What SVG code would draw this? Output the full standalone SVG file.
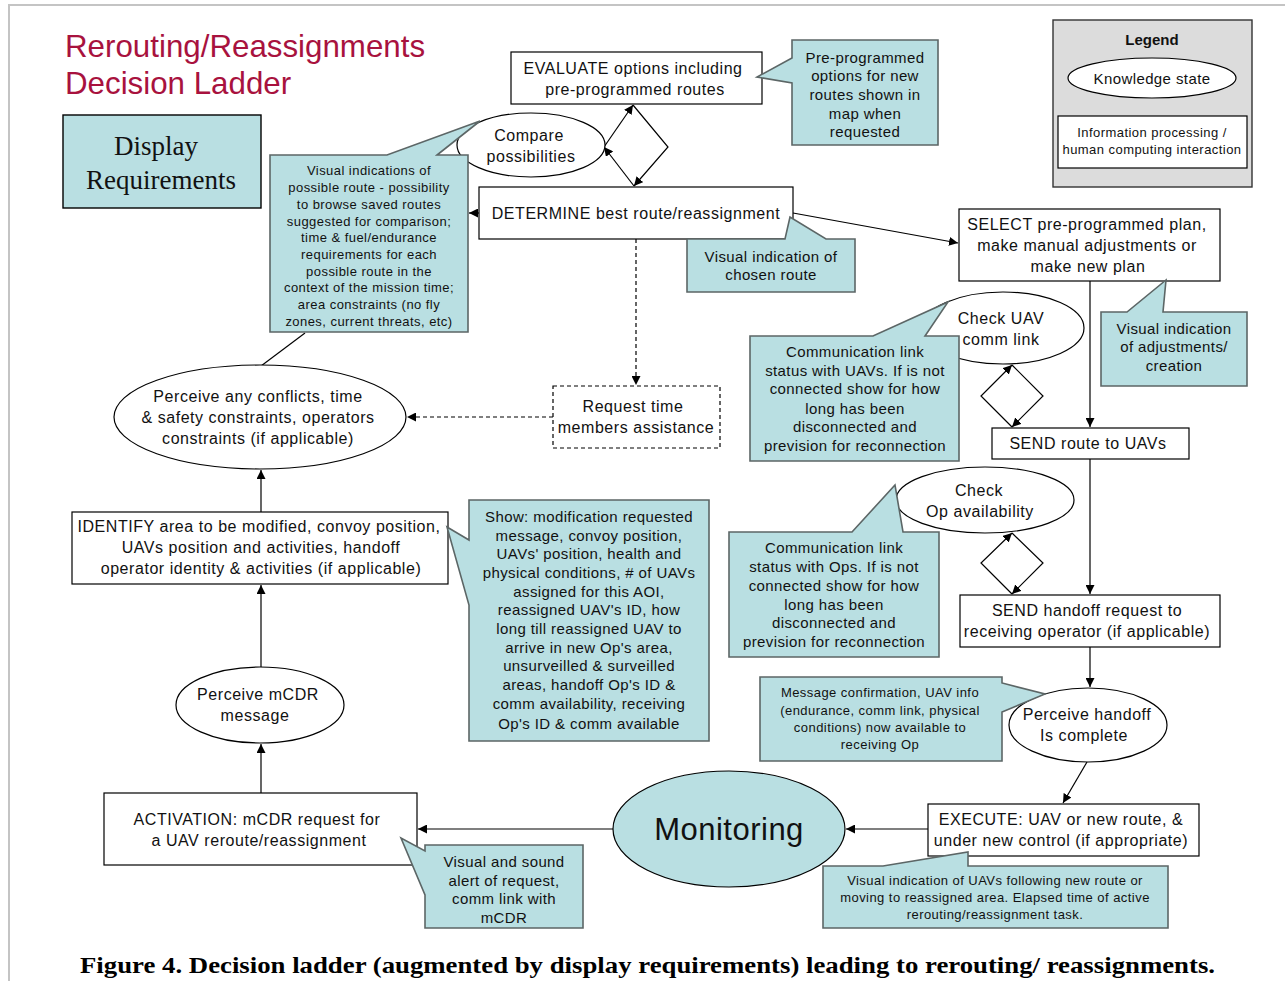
<svg xmlns="http://www.w3.org/2000/svg" width="1285" height="981" viewBox="0 0 1285 981">
<defs>
<marker id="ah" markerWidth="9" markerHeight="9" refX="9" refY="4.5" orient="auto" markerUnits="userSpaceOnUse"><path d="M0,0 L9,4.5 L0,9 z" fill="#000"/></marker>
<style>
.box{fill:#fff;stroke:#000;stroke-width:1.2}
.dbox{fill:#fff;stroke:#000;stroke-width:1.2;stroke-dasharray:4,3}
.ell{fill:#fff;stroke:#000;stroke-width:1.2}
.call{fill:#b9dfe2;stroke:#5c6666;stroke-width:1.6;stroke-linejoin:miter}
.t16{font-family:"Liberation Sans",Arial,sans-serif;font-size:16px;letter-spacing:0.55px;fill:#111;text-anchor:middle}
.t15{font-family:"Liberation Sans",Arial,sans-serif;font-size:15px;letter-spacing:0.4px;fill:#111;text-anchor:middle}
.t13{font-family:"Liberation Sans",Arial,sans-serif;font-size:13px;letter-spacing:0.45px;fill:#111;text-anchor:middle}
.c{stroke:#000;stroke-width:1.2;fill:none}
.ca{stroke:#000;stroke-width:1.2;fill:none;marker-end:url(#ah)}
.cd{stroke:#000;stroke-width:1.2;fill:none;stroke-dasharray:4,3;marker-end:url(#ah)}
</style>
</defs>
<rect width="1285" height="981" fill="#fff"/>
<path d="M9,981 L9,5 L1285,5" fill="none" stroke="#c4c4c4" stroke-width="2"/>

<g id="title">
<text x="65" y="57" font-family="'Liberation Sans',Arial,sans-serif" font-size="31.3" fill="#a8123e">Rerouting/Reassignments</text>
<text x="65" y="94" font-family="'Liberation Sans',Arial,sans-serif" font-size="31.3" fill="#a8123e">Decision Ladder</text>
</g>

<g id="display-req">
<rect x="63" y="115" width="198" height="93" fill="#b9dfe2" stroke="#000" stroke-width="1.4"/>
<text x="156" y="155" font-family="'Liberation Serif','Times New Roman',serif" font-size="27" text-anchor="middle" fill="#111">Display</text>
<text x="161" y="189" font-family="'Liberation Serif','Times New Roman',serif" font-size="27" text-anchor="middle" fill="#111">Requirements</text>
</g>

<g id="legend">
<rect x="1053" y="20" width="199" height="167" fill="#dcdcdc" stroke="#333" stroke-width="1.4"/>
<text x="1152" y="45" class="t15" font-weight="bold" style="letter-spacing:0">Legend</text>
<ellipse cx="1152" cy="78" rx="84" ry="20" class="ell"/>
<text x="1152" y="84" class="t15">Knowledge state</text>
<rect x="1058" y="116" width="189" height="52" class="box"/>
<text x="1152" y="137" class="t13">Information processing /</text>
<text x="1152" y="154" class="t13">human computing interaction</text>
</g>

<g id="connectors">
<path class="ca" d="M634,186 L604,147"/>
<path class="ca" d="M604,147 L633,105"/>
<path class="ca" d="M633,105 L668,147 L634,186"/>
<path class="ca" d="M479,213 L469,213"/>
<path class="ca" d="M793,213 L958,243"/>
<path class="cd" d="M636,239 L636,385"/>
<path class="cd" d="M553,417 L407,417"/>
<path class="ca" d="M261,512 L261,470"/>
<path class="ca" d="M261,667 L261,585"/>
<path class="ca" d="M261,793 L261,744"/>
<path class="ca" d="M613,829 L418,829"/>
<path class="ca" d="M928,829 L846,829"/>
<path class="ca" d="M1087,762 L1063,803"/>
<path class="ca" d="M1090,647 L1090,687"/>
<path class="ca" d="M1090,459 L1090,594"/>
<path class="ca" d="M1090,281 L1090,427"/>
<path class="ca" d="M1012,427 L981,396 L1012,365"/>
<path class="ca" d="M1012,365 L1043,396 L1012,427"/>
<path class="ca" d="M1012,594 L981,563 L1012,533"/>
<path class="ca" d="M1012,533 L1043,563 L1012,594"/>
<path class="c" d="M305,333 L261,366"/>
</g>

<g id="evaluate">
<rect x="511" y="52" width="251" height="52" class="box"/>
<text x="633" y="74" class="t16">EVALUATE options including</text>
<text x="635" y="95" class="t16">pre-programmed routes</text>
</g>

<g id="callout-preprog">
<path class="call" d="M792,40 L938,40 L938,145 L792,145 L792,83 L757,77 L792,58 Z"/>
<text x="865" y="63" class="t15">Pre-programmed</text>
<text x="865" y="81" class="t15">options for new</text>
<text x="865" y="100" class="t15">routes shown in</text>
<text x="865" y="119" class="t15">map when</text>
<text x="865" y="137" class="t15">requested</text>
</g>

<g id="compare">
<ellipse cx="531" cy="145" rx="74" ry="32" class="ell"/>
<text x="529" y="141" class="t16">Compare</text>
<text x="531" y="162" class="t16">possibilities</text>
</g>

<g id="callout-visual-routes">
<path class="call" d="M270,155 L387,155 L480,121 L437,155 L468,155 L468,332 L270,332 Z"/>
<text x="369" y="175" class="t13">Visual indications of</text>
<text x="369" y="192" class="t13">possible route - possibility</text>
<text x="369" y="209" class="t13">to browse saved routes</text>
<text x="369" y="226" class="t13">suggested for comparison;</text>
<text x="369" y="242" class="t13">time &amp; fuel/endurance</text>
<text x="369" y="259" class="t13">requirements for each</text>
<text x="369" y="276" class="t13">possible route in the</text>
<text x="369" y="292" class="t13">context of the mission time;</text>
<text x="369" y="309" class="t13">area constraints (no fly</text>
<text x="369" y="326" class="t13">zones, current threats, etc)</text>
</g>

<g id="determine">
<rect x="479" y="187" width="314" height="52" class="box"/>
<text x="636" y="219" class="t16">DETERMINE best route/reassignment</text>
</g>

<g id="callout-chosen">
<path class="call" d="M687,239 L785,239 L790,217 L826,239 L855,239 L855,292 L687,292 Z"/>
<text x="771" y="262" class="t15">Visual indication of</text>
<text x="771" y="280" class="t15">chosen route</text>
</g>

<g id="request">
<rect x="553" y="386" width="167" height="62" class="dbox"/>
<text x="633" y="412" class="t16">Request time</text>
<text x="636" y="433" class="t16">members assistance</text>
</g>

<g id="perceive-conflicts">
<ellipse cx="260" cy="417" rx="146" ry="52" class="ell"/>
<text x="258" y="402" class="t16">Perceive any conflicts, time</text>
<text x="258" y="423" class="t16">&amp; safety constraints, operators</text>
<text x="258" y="444" class="t16">constraints (if applicable)</text>
</g>

<g id="identify">
<rect x="72" y="512" width="376" height="72" class="box"/>
<text x="259" y="532" class="t16">IDENTIFY area to be modified, convoy position,</text>
<text x="261" y="553" class="t16">UAVs position and activities, handoff</text>
<text x="261" y="574" class="t16">operator identity &amp; activities (if applicable)</text>
</g>

<g id="callout-show">
<path class="call" d="M469,500 L709,500 L709,741 L469,741 L469,605 L447,527 L469,540 Z"/>
<text x="589" y="522" class="t15">Show: modification requested</text>
<text x="589" y="541" class="t15">message, convoy position,</text>
<text x="589" y="559" class="t15">UAVs' position, health and</text>
<text x="589" y="578" class="t15">physical conditions, # of UAVs</text>
<text x="589" y="597" class="t15">assigned for this AOI,</text>
<text x="589" y="615" class="t15">reassigned UAV's ID, how</text>
<text x="589" y="634" class="t15">long till reassigned UAV to</text>
<text x="589" y="653" class="t15">arrive in new Op's area,</text>
<text x="589" y="671" class="t15">unsurveilled &amp; surveilled</text>
<text x="589" y="690" class="t15">areas, handoff Op's ID &amp;</text>
<text x="589" y="709" class="t15">comm availability, receiving</text>
<text x="589" y="729" class="t15">Op's ID &amp; comm available</text>
</g>

<g id="perceive-mcdr">
<ellipse cx="260" cy="705" rx="84" ry="38" class="ell"/>
<text x="258" y="700" class="t16">Perceive mCDR</text>
<text x="255" y="721" class="t16">message</text>
</g>

<g id="activation">
<rect x="104" y="793" width="313" height="72" class="box"/>
<text x="257" y="825" class="t16">ACTIVATION: mCDR request for</text>
<text x="259" y="846" class="t16">a UAV reroute/reassignment</text>
</g>

<g id="callout-alert">
<path class="call" d="M425,845 L583,845 L583,928 L425,928 L425,895 L401,838 L425,851 Z"/>
<text x="504" y="867" class="t15">Visual and sound</text>
<text x="504" y="886" class="t15">alert of request,</text>
<text x="504" y="904" class="t15">comm link with</text>
<text x="504" y="923" class="t15">mCDR</text>
</g>

<g id="monitoring">
<ellipse cx="729" cy="829" rx="116" ry="58" fill="#b9dfe2" stroke="#000" stroke-width="1.2"/>
<text x="729" y="840" class="t16" style="font-size:31px;letter-spacing:0.5px">Monitoring</text>
</g>

<g id="select">
<rect x="959" y="209" width="261" height="72" class="box"/>
<text x="1087" y="230" class="t16">SELECT pre-programmed plan,</text>
<text x="1087" y="251" class="t16">make manual adjustments or</text>
<text x="1088" y="272" class="t16">make new plan</text>
</g>

<g id="callout-adjust">
<path class="call" d="M1101,312 L1127,312 L1166,280 L1163,312 L1247,312 L1247,386 L1101,386 Z"/>
<text x="1174" y="334" class="t15">Visual indication</text>
<text x="1174" y="352" class="t15">of adjustments/</text>
<text x="1174" y="371" class="t15">creation</text>
</g>

<g id="check-uav">
<ellipse cx="1003" cy="328" rx="81" ry="36" class="ell"/>
<text x="1001" y="324" class="t16">Check UAV</text>
<text x="1001" y="345" class="t16">comm link</text>
</g>

<g id="callout-uav-link">
<path class="call" d="M750,336 L873,336 L948,302 L925,336 L959,336 L959,461 L750,461 Z"/>
<text x="855" y="357" class="t15">Communication link</text>
<text x="855" y="376" class="t15">status with UAVs. If is not</text>
<text x="855" y="394" class="t15">connected show for how</text>
<text x="855" y="414" class="t15">long has been</text>
<text x="855" y="432" class="t15">disconnected and</text>
<text x="855" y="451" class="t15">prevision for reconnection</text>
</g>

<g id="send-route">
<rect x="992" y="428" width="197" height="31" class="box"/>
<text x="1088" y="449" class="t16">SEND route to UAVs</text>
</g>

<g id="check-op">
<ellipse cx="985" cy="500" rx="89" ry="33" class="ell"/>
<text x="979" y="496" class="t16">Check</text>
<text x="980" y="517" class="t16">Op availability</text>
</g>

<g id="callout-op-link">
<path class="call" d="M729,532 L852,532 L895,485 L903,532 L939,532 L939,657 L729,657 Z"/>
<text x="834" y="553" class="t15">Communication link</text>
<text x="834" y="572" class="t15">status with Ops. If is not</text>
<text x="834" y="591" class="t15">connected show for how</text>
<text x="834" y="610" class="t15">long has been</text>
<text x="834" y="628" class="t15">disconnected and</text>
<text x="834" y="647" class="t15">prevision for reconnection</text>
</g>

<g id="send-handoff">
<rect x="960" y="595" width="260" height="52" class="box"/>
<text x="1087" y="616" class="t16">SEND handoff request to</text>
<text x="1087" y="637" class="t16">receiving operator (if applicable)</text>
</g>

<g id="perceive-handoff">
<ellipse cx="1088" cy="725" rx="79" ry="37" class="ell"/>
<text x="1087" y="720" class="t16">Perceive handoff</text>
<text x="1084" y="741" class="t16">Is complete</text>
</g>

<g id="callout-confirm">
<path class="call" d="M760,677 L1002,677 L1002,683 L1045,694 L1002,712 L1002,761 L760,761 Z"/>
<text x="880" y="697" class="t13">Message confirmation, UAV info</text>
<text x="880" y="715" class="t13">(endurance, comm link, physical</text>
<text x="880" y="732" class="t13">conditions) now available to</text>
<text x="880" y="749" class="t13">receiving Op</text>
</g>

<g id="execute">
<rect x="928" y="804" width="271" height="52" class="box"/>
<text x="1061" y="825" class="t16">EXECUTE: UAV or new route, &amp;</text>
<text x="1061" y="846" class="t16">under new control (if appropriate)</text>
</g>

<g id="callout-following">
<path class="call" d="M823,866 L883,866 L968,852 L968,866 L1168,866 L1168,928 L823,928 Z"/>
<text x="995" y="885" class="t13">Visual indication of UAVs following new route or</text>
<text x="995" y="902" class="t13">moving to reassigned area. Elapsed time of active</text>
<text x="995" y="919" class="t13">rerouting/reassignment task.</text>
</g>

<g id="caption">
<text x="80" y="973" font-family="'Liberation Serif','Times New Roman',serif" font-size="24" font-weight="bold" fill="#000" textLength="1135" lengthAdjust="spacingAndGlyphs">Figure 4. Decision ladder (augmented by display requirements) leading to rerouting/ reassignments.</text>
</g>
</svg>
